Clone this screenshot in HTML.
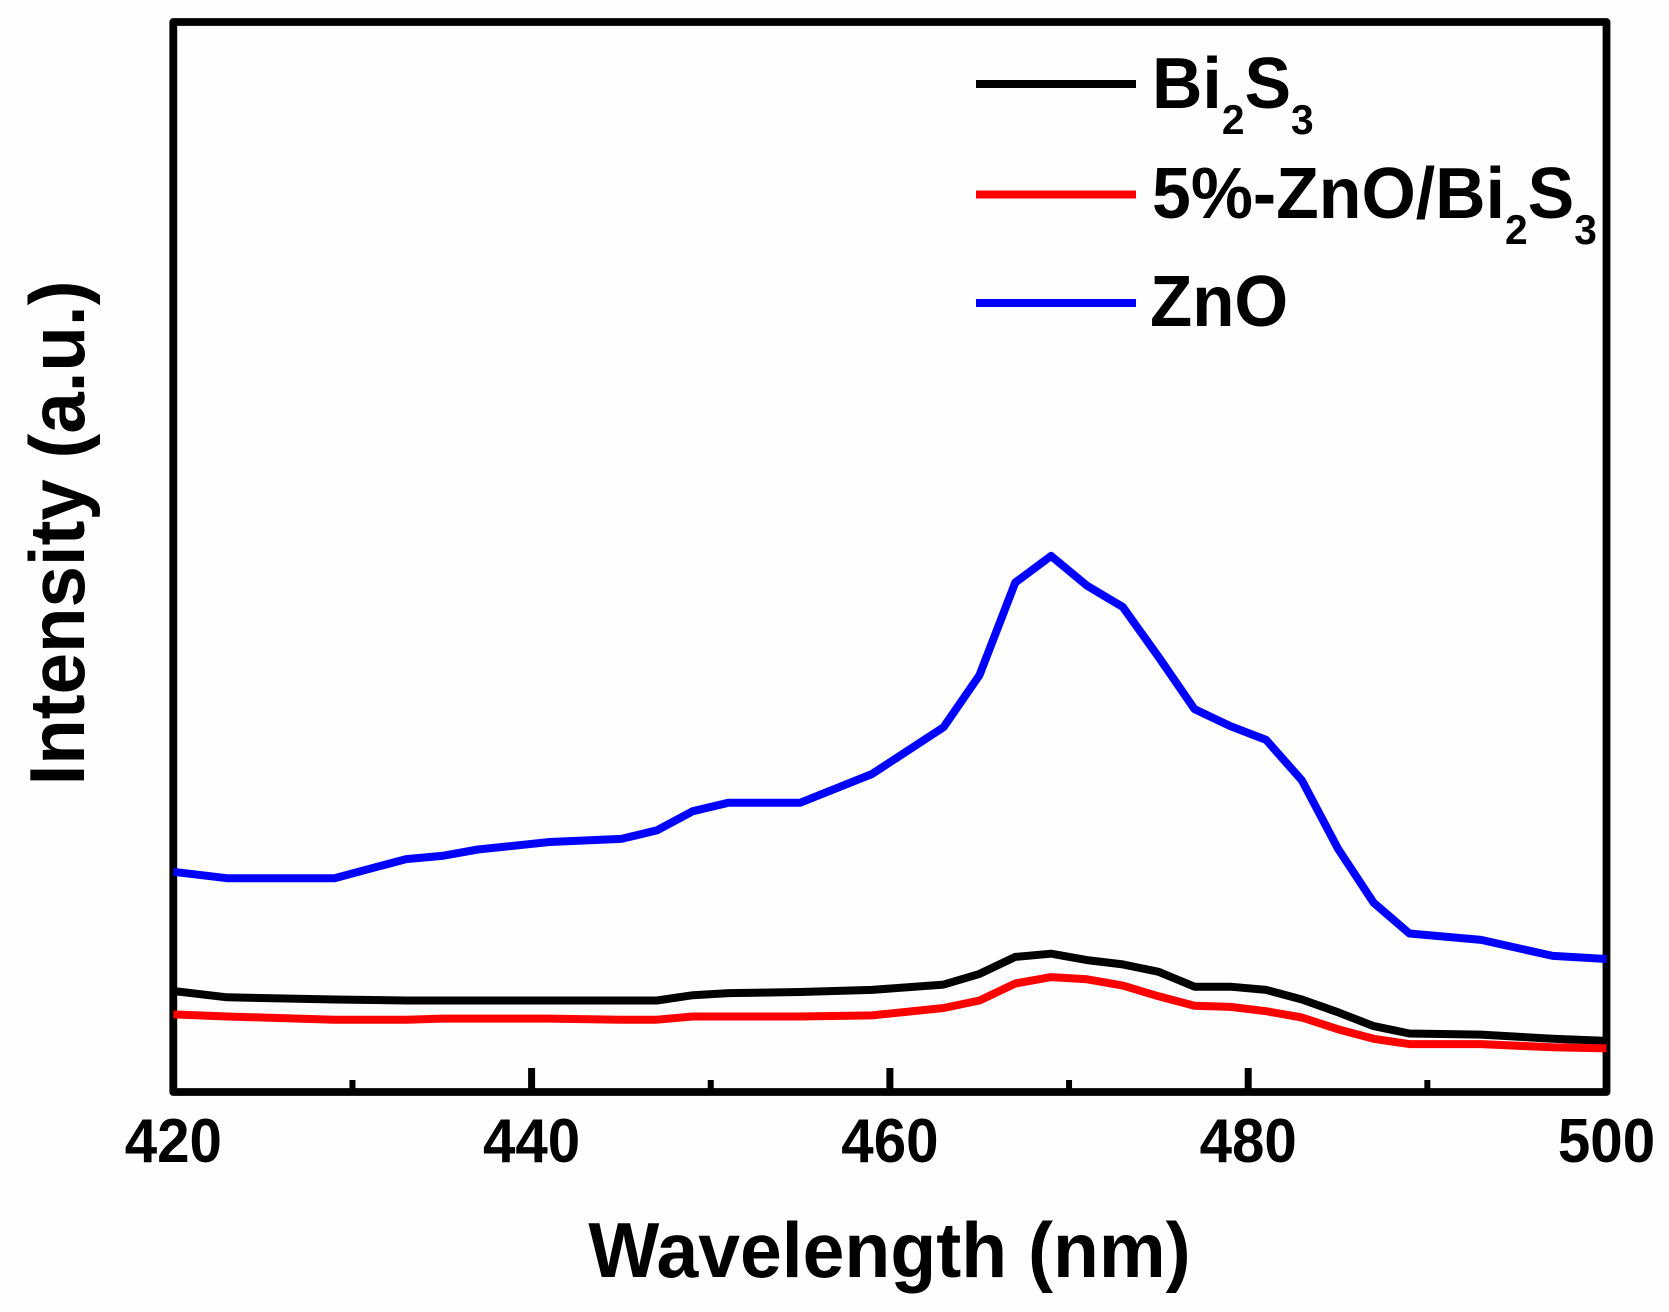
<!DOCTYPE html>
<html lang="en">
<head>
<meta charset="utf-8">
<title>Intensity vs Wavelength</title>
<style>
html,body{margin:0;padding:0;background:#fefefe;}
svg{display:block;}
text{font-family:"Liberation Sans",Arial,sans-serif;font-weight:700;fill:#000;}
</style>
</head>
<body>
<svg id="chart" xmlns="http://www.w3.org/2000/svg" width="1669" height="1312" viewBox="0 0 1669 1312">
  <rect id="plot-frame" fill="none" stroke="#000" stroke-width="7.8" stroke-linejoin="round"></rect>
  <g id="ticks"></g>
  <g id="series"></g>
  <text transform="translate(889.5 1277) scale(0.963 1)" font-size="78" text-anchor="middle">Wavelength (nm)</text>
  <text transform="translate(84 533) rotate(-90) scale(0.955 1)" font-size="78" text-anchor="middle">Intensity (a.u.)</text>
  <g>
    <line x1="976" y1="84" x2="1136" y2="84" stroke="#000" stroke-width="8"></line>
    <text transform="translate(1152 108) scale(0.97 1)" font-size="72">Bi<tspan font-size="42" dy="26">2</tspan><tspan dy="-26">S</tspan><tspan font-size="42" dy="26">3</tspan></text>
    <line x1="976" y1="194.5" x2="1136" y2="194.5" stroke="#ff0000" stroke-width="8"></line>
    <text transform="translate(1152 218) scale(0.97 1)" font-size="72">5%-ZnO/Bi<tspan font-size="42" dy="26">2</tspan><tspan dy="-26">S</tspan><tspan font-size="42" dy="26">3</tspan></text>
    <line x1="976" y1="303" x2="1136" y2="303" stroke="#0000ff" stroke-width="8"></line>
    <text transform="translate(1150 326) scale(0.96 1)" font-size="72">ZnO</text>
  </g>
</svg>
<script>
const wavelengths = [420,423,429,433,435,437,441,445,447,449,451,455,459,463,465,467,469,471,473,475,477,479,481,483,485,487,489,493,497,500];
const intensityBi2S3 = [95,89,87,86,86,86,86,86,86,91,93,94,96,101,111,127,130,124,120,113,99,99,96,87,75,62,55,54,50,48];
const intensityZnOBi2S3 = [73,71,68,68,69,69,69,68,68,71,71,71,72,79,86,102,108,106,100,90,81,80,76,70,59,50,45,45,42,41];
const intensityZnO = [207,201,201,219,222,228,235,238,246,264,272,272,299,343,392,479,504,476,456,409,360,344,331,293,229,178,149,143,128,125];
const majorTicks = [420,440,460,480,500];
const minorTicks = [430,450,470,490];
const xDomain = [420,500];
const yDomain = [0,1006];

const plotLeft = 173.3, plotRight = 1606.5, plotTop = 22, plotBottom = 1092;
const NS = 'http://www.w3.org/2000/svg';
function xScale(v){ return plotLeft + (v - xDomain[0]) / (xDomain[1] - xDomain[0]) * (plotRight - plotLeft); }
function yScale(v){ return plotBottom - (v - yDomain[0]) / (yDomain[1] - yDomain[0]) * (plotBottom - plotTop); }

const frame = document.getElementById('plot-frame');
frame.setAttribute('x', plotLeft);
frame.setAttribute('y', plotTop);
frame.setAttribute('width', plotRight - plotLeft);
frame.setAttribute('height', plotBottom - plotTop);

const tickGroup = document.getElementById('ticks');
majorTicks.forEach(function(t){
  const tick = document.createElementNS(NS, 'line');
  
  
  tick.setAttribute('x1', xScale(t));
  tick.setAttribute('x2', xScale(t));
  tick.setAttribute('y1', plotBottom);
  tick.setAttribute('y2', plotBottom - 24);
  tick.setAttribute('stroke', '#000');
  tick.setAttribute('stroke-width', '7');
  tickGroup.appendChild(tick);
  const label = document.createElementNS(NS, 'text');
  
  
  label.setAttribute('transform', 'translate(' + xScale(t) + ' 1162) scale(0.94 1)');
  label.setAttribute('font-size', '62');
  label.setAttribute('text-anchor', 'middle');
  label.textContent = String(t);
  tickGroup.appendChild(label);
});
minorTicks.forEach(function(t){
  const tick = document.createElementNS(NS, 'line');
  
  
  tick.setAttribute('x1', xScale(t));
  tick.setAttribute('x2', xScale(t));
  tick.setAttribute('y1', plotBottom);
  tick.setAttribute('y2', plotBottom - 12);
  tick.setAttribute('stroke', '#000');
  tick.setAttribute('stroke-width', '6');
  tickGroup.appendChild(tick);
});

function drawSeries(values, color, name){
  const path = document.createElementNS(NS, 'polyline');
  
  
  path.setAttribute('points', values.map(function(v, i){ return xScale(wavelengths[i]).toFixed(1) + ',' + yScale(v).toFixed(1); }).join(' '));
  path.setAttribute('fill', 'none');
  path.setAttribute('stroke', color);
  path.setAttribute('stroke-width', '8');
  path.setAttribute('stroke-linejoin', 'round');
  document.getElementById('series').appendChild(path);
}
drawSeries(intensityZnO, '#0000ff', 'series-zno');
drawSeries(intensityBi2S3, '#000000', 'series-bi2s3');
drawSeries(intensityZnOBi2S3, '#ff0000', 'series-5pct-zno-bi2s3');
</script>
</body>
</html>
